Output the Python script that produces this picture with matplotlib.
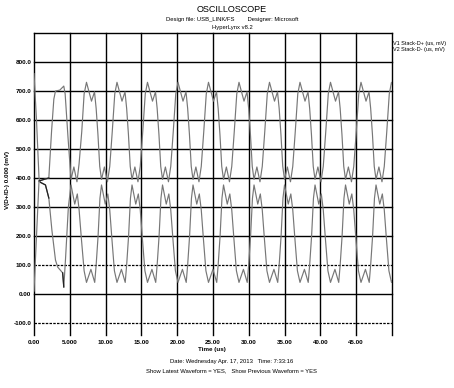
import matplotlib
matplotlib.use("Agg")
import matplotlib.pyplot as plt

plt.rcParams['font.family'] = ['Liberation Sans Narrow', 'Liberation Sans', 'DejaVu Sans']

# times in us, levels in mV

# start-up part of each trace, before the regular bit pattern
start_t_a = [0.0, 0.35, 0.7, 1.0, 1.5, 2.07, 2.45, 2.77, 3.0, 3.6, 4.16, 4.35, 4.75, 5.17, 5.57, 6.00, 6.3, 6.67, 7.0]
start_v_a = [10, 200, 390, 392, 396, 400, 560, 672, 700, 703, 717, 690, 540, 395, 438, 387, 450, 560, 690]
start_t_b = [0.0, 0.35, 0.7, 0.9, 1.6, 2.07, 2.5, 3.0, 3.3, 4.0, 4.16, 4.4, 4.8, 5.17, 5.69, 6.05, 6.3, 6.62, 7.0]
start_v_b = [760, 600, 400, 385, 376, 331, 220, 117, 93, 73, 24, 120, 300, 376, 310, 345, 290, 190, 80]

# times of each D+ main peak (D- trough)
peak_times = [7.33, 11.59, 15.85, 20.11, 24.37, 28.63, 32.89, 37.15, 41.41, 45.67]

# shape of one bit pair, offset from the peak time
cycle_dt_a = [0.0, 0.70, 1.12, 1.35, 1.60, 1.85, 2.10, 2.50, 2.93, 3.25, 3.60, 3.95]
cycle_v_a = [730, 665, 697, 640, 550, 440, 395, 438, 387, 440, 560, 690]
cycle_dt_b = [0.0, 0.62, 1.15, 1.35, 1.62, 1.88, 2.10, 2.62, 2.98, 3.25, 3.55, 3.90]
cycle_v_b = [40, 85, 40, 100, 200, 330, 376, 310, 345, 290, 190, 80]

end_t = [49.93, 50.0]
end_v_a = [730, 725]
end_v_b = [40, 45]

x_ticks = [0, 5, 10, 15, 20, 25, 30, 35, 40, 45]
x_labels = ["0.00", "5.000", "10.00", "15.00", "20.00", "25.00", "30.00", "35.00", "40.00", "45.00"]
y_ticks = [800, 700, 600, 500, 400, 300, 200, 100, 0, -100]
y_labels = ["800.0", "700.0", "600.0", "500.0", "400.0", "300.0", "200.0", "100.0", "0.00", "-100.0"]
dashed_levels = [100, -100]

def build(start_t, start_v, dts, vals, end_v):
    ts, vs = list(start_t), list(start_v)
    for p in peak_times:
        ts += [p + d for d in dts]
        vs += vals
    return ts + end_t, vs + end_v

t_a, v_a = build(start_t_a, start_v_a, cycle_dt_a, cycle_v_a, end_v_a)
t_b, v_b = build(start_t_b, start_v_b, cycle_dt_b, cycle_v_b, end_v_b)

fig = plt.figure(figsize=(4.54, 3.88), dpi=100)
ax = fig.add_axes([34 / 454, 1 - 334.6 / 388, 358 / 454, 301.6 / 388])
ax.set_xlim(0, 50)
ax.set_ylim(-140, 900)
for s in ax.spines.values():
    s.set_visible(False)

# grid
for t in x_ticks + [50]:
    ax.axvline(t, color="black", lw=1.0, clip_on=False)
for v in y_ticks:
    if v in dashed_levels:
        ax.plot([0, 50], [v, v], color="black", lw=0.9, ls=(0, (2, 1)), clip_on=False)
    else:
        ax.plot([0, 50], [v, v], color="black", lw=1.0, clip_on=False)
ax.plot([0, 50], [900, 900], color="black", lw=1.0, clip_on=False)

# waveforms
ax.plot(t_a, v_a, color="#777777", lw=0.85)
ax.plot(t_b, v_b, color="#777777", lw=0.85)
# darker overlap near the start
ax.plot(start_t_a[2:6], start_v_a[2:6], color="#222222", lw=0.9)
ax.plot(start_t_b[3:6], start_v_b[3:6], color="#222222", lw=0.9)
ax.plot(start_t_b[9:11], start_v_b[9:11], color="#222222", lw=0.9)

ax.set_xticks(x_ticks)
ax.set_xticklabels(x_labels, fontsize=4.5, fontweight="bold")
ax.set_yticks(y_ticks)
ax.set_yticklabels(y_labels, fontsize=4.5, fontweight="bold")
ax.tick_params(length=0, pad=2)
ax.tick_params(axis="x", pad=4)

fig.text(212 / 454, 1 - 349 / 388, "Time (us)", fontsize=4.5, fontweight="bold", ha="center", va="center")
fig.text(8 / 454, 1 - 180 / 388, "V(D+/D-) 0.000 (mV)", fontsize=4.5, fontweight="bold",
         rotation=90, ha="center", va="center")

fig.text(232 / 454, 1 - 9 / 388, "OSCILLOSCOPE", fontsize=6.5, ha="center", va="center")
fig.text(232 / 454, 1 - 19 / 388, "Design file: USB_LINK/FS        Designer: Microsoft",
         fontsize=4.2, ha="center", va="center")
fig.text(232 / 454, 1 - 28 / 388, "HyperLynx v8.2", fontsize=4.2, ha="center", va="center")

fig.text(393 / 454, 1 - 43 / 388, "V1 Stack-D+ (us, mV)", fontsize=4, ha="left", va="center")
fig.text(393 / 454, 1 - 49 / 388, "V2 Stack-D- (us, mV)", fontsize=4, ha="left", va="center")

fig.text(232 / 454, 1 - 362 / 388, "Date: Wednesday Apr. 17, 2013   Time: 7:33:16",
         fontsize=4.2, ha="center", va="center")
fig.text(232 / 454, 1 - 371 / 388, "Show Latest Waveform = YES,   Show Previous Waveform = YES",
         fontsize=4.2, ha="center", va="center")

fig.savefig("out.png", dpi=100)
